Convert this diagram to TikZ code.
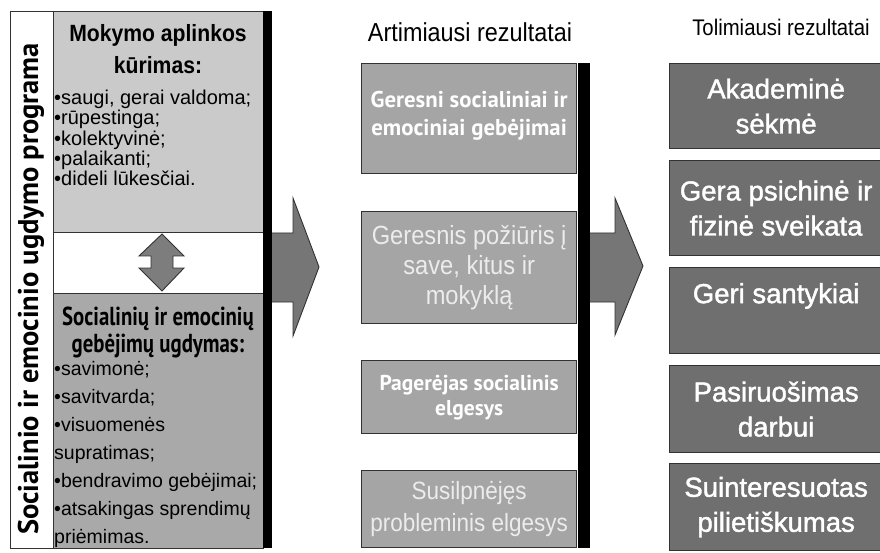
\documentclass[tikz,border=0pt]{standalone}
\usepackage{fontspec}
\setmainfont{Liberation Sans}
\newfontfamily\narrowfont[FakeStretch=0.9]{Liberation Sans}
\newfontfamily\farfont[FakeBold=1.5]{Liberation Sans}
\newfontfamily\ptfont{PT Sans}
\newfontfamily\condfont[FakeStretch=0.8]{PT Sans}
\usetikzlibrary{positioning,calc}
\definecolor{envfill}{RGB}{202,202,202}
\definecolor{skillfill}{RGB}{169,169,169}
\definecolor{nearfill}{RGB}{165,165,165}
\definecolor{farfill}{RGB}{111,111,111}
\definecolor{arrowfill}{RGB}{118,118,118}
\definecolor{edgecol}{RGB}{50,50,50}
\definecolor{softwhite}{RGB}{236,236,236}
\tikzset{
  panel/.style={anchor=north west, inner sep=0pt, minimum width=210pt},
  nearbox/.style={draw=edgecol, line width=1.3pt, fill=nearfill, anchor=north west,
    inner sep=0pt, minimum width=215pt, align=center},
  farbox/.style={draw=edgecol, line width=1.3pt, fill=farfill, anchor=north west,
    inner sep=0pt, minimum width=213pt, align=center, text=white,
    font=\farfont\fontsize{27.5}{35}\selectfont},
  blockarrow/.style={draw=edgecol, line width=0.9pt, fill=arrowfill, line join=miter},
  bulletlist/.style={anchor=north west, align=left, inner sep=0pt},
}
\begin{document}
\begin{tikzpicture}[x=1pt, y=-1pt]
  \useasboundingbox (0,0) rectangle (880,553);
  % Left column: programme
  \node[panel, fill=envfill, minimum height=221pt] (envpanel) at (53,11) {};
  \node[panel, fill=skillfill, minimum height=255pt] (skillpanel) at (53,293) {};
  \draw[edgecol, line width=0.8pt] (10,11) rectangle (263,548);
  \draw[edgecol, line width=0.8pt] (envpanel.north west) -- (skillpanel.south west);
  \draw[edgecol, line width=0.8pt] (envpanel.south west) -- (envpanel.south east);
  \draw[edgecol, line width=0.8pt] (skillpanel.north west) -- (skillpanel.north east);
  \fill[black] (263,11) rectangle (272,548);
  \node[rotate=90, font=\ptfont\bfseries\fontsize{28.5}{28.5}\selectfont] (progtitle)
    at (31,289) {Socialinio ir emocinio ugdymo programa};
  \node[align=center, font=\narrowfont\bfseries\fontsize{23.5}{32}\selectfont] (envhead)
    at (158,49) {Mokymo aplinkos\\kūrimas:};
  \node[bulletlist, font=\fontsize{20}{20.3}\selectfont] (envlist) at (54,90)
    {•saugi, gerai valdoma;\\•rūpestinga;\\•kolektyvinė;\\•palaikanti;\\•dideli lūkesčiai.};
  \node[align=center, font=\condfont\bfseries\fontsize{26}{27}\selectfont] (skillhead)
    at (158,332) {Socialinių ir emocinių\\gebėjimų ugdymas:};
  \node[bulletlist, font=\fontsize{19.5}{28}\selectfont] (skilllist) at (54,361)
    {•savimonė;\\•savitvarda;\\•visuomenės\\supratimas;\\•bendravimo gebėjimai;\\•atsakingas sprendimų\\priėmimas.};
  % Double arrow between the two parts
  \draw[blockarrow, fill=black!51] (162,234) -- (184,256) -- (173,256) -- (173,268)
    -- (184,268) -- (162,291) -- (139,268) -- (151,268) -- (151,256) -- (139,256) -- cycle;
  % Block arrows
  \draw[blockarrow] (272,233) -- (293,233) -- (293,198) -- (319,267) -- (293,336)
    -- (293,302) -- (272,302);
  \draw[blockarrow] (590,233) -- (615,233) -- (615,198) -- (643,266) -- (615,335)
    -- (615,302) -- (590,302);
  % Near outcomes
  \node[font=\narrowfont\fontsize{26}{26}\selectfont] (nearhead) at (470,32) {Artimiausi rezultatai};
  \node[nearbox, minimum height=110pt, text=white, font=\ptfont\bfseries\fontsize{22.8}{28}\selectfont]
    (near1) at (361,63) {Geresni socialiniai ir\\emociniai gebėjimai\\[-18pt]\mbox{}};
  \node[nearbox, minimum height=112pt, text=softwhite, font=\narrowfont\fontsize{26.3}{30}\selectfont]
    (near2) at (361,211) {Geresnis požiūris į\\save, kitus ir\\mokyklą};
  \node[nearbox, minimum height=73pt, text=white, font=\ptfont\bfseries\fontsize{21.5}{25}\selectfont]
    (near3) at (361,360) {Pagerėjas socialinis\\elgesys};
  \node[nearbox, minimum height=77pt, text=softwhite, font=\narrowfont\fontsize{25}{32}\selectfont]
    (near4) at (361,470) {Susilpnėjęs\\probleminis elgesys};
  \fill[black] (578,63) rectangle (590,548);
  % Far outcomes
  \node[font=\narrowfont\fontsize{22.6}{22.6}\selectfont] (farhead) at (781,27) {Tolimiausi rezultatai};
  \node[farbox, minimum height=85pt] (far1) at (669,63) {Akademinė\\sėkmė};
  \node[farbox, minimum height=95pt] (far2) at (669,160) {Gera psichinė ir\\fizinė sveikata};
  \node[farbox, minimum height=86pt] (far3) at (669,267) {Geri santykiai\\\mbox{}};
  \node[farbox, minimum height=87pt] (far4) at (669,365) {Pasiruošimas\\darbui};
  \node[farbox, minimum height=87pt] (far5) at (669,463) {Suinteresuotas\\pilietiškumas};
\end{tikzpicture}
\end{document}
